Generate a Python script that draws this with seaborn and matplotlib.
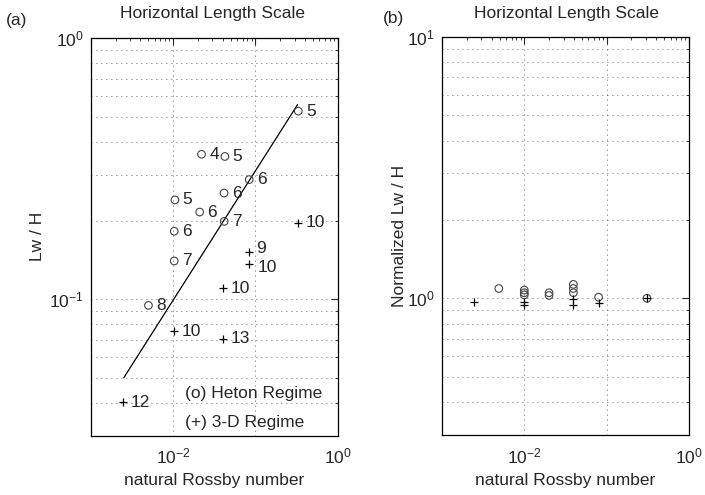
import matplotlib
matplotlib.use("Agg")
import matplotlib.pyplot as plt
import seaborn as sns
from matplotlib.ticker import FixedLocator, FixedFormatter, NullFormatter, LogLocator

# ---------------- data ----------------
# Panel (a): Lw/H vs natural Rossby number
heton_x = [0.332, 0.0221, 0.0425, 0.084, 0.0415, 0.0105, 0.0210, 0.0417, 0.0103, 0.0103, 0.0050]
heton_y = [0.525, 0.359, 0.352, 0.287, 0.255, 0.240, 0.2156, 0.1985, 0.182, 0.140, 0.0946]
heton_lab = ['5', '4', '5', '6', '6', '5', '6', '7', '6', '7', '8']

threed_x = [0.333, 0.0832, 0.0832, 0.0402, 0.0102, 0.0408, 0.00248]
threed_y = [0.196, 0.152, 0.136, 0.110, 0.0754, 0.0706, 0.0402]
threed_lab = ['10', '9', '10', '10', '10', '13', '12']

fit_x = [0.00251, 0.325]
fit_y = [0.050, 0.556]

# Panel (b): normalized Lw/H
norm_heton_x = [0.0049, 0.0100, 0.0100, 0.0100, 0.0200, 0.0200, 0.0395, 0.0395, 0.0395, 0.080, 0.31]
norm_heton_y = [1.09, 1.075, 1.05, 1.03, 1.05, 1.025, 1.13, 1.09, 1.05, 1.01, 1.0]
norm_threed_x = [0.00245, 0.0100, 0.0100, 0.0390, 0.0390, 0.080, 0.31]
norm_threed_y = [0.97, 0.97, 0.945, 0.99, 0.945, 0.96, 1.0]

xtick_vals = [1e-3, 1e-2, 1e-1, 1e0]
xtick_labels = ['', r'$10^{-2}$', '', r'$10^{0}$']
ya_tick_vals = [1e-1, 1e0]
ya_tick_labels = [r'$10^{-1}$', r'$10^{0}$']
yb_tick_vals = [1e0, 1e1]
yb_tick_labels = [r'$10^{0}$', r'$10^{1}$']

title_text = "Horizontal Length Scale"
xlabel_text = "natural Rossby number"

# ---------------- style ----------------
sns.set_style("white")
plt.rcParams['font.family'] = ['Liberation Sans', 'DejaVu Sans']
plt.rcParams['mathtext.fontset'] = 'custom'
plt.rcParams['mathtext.rm'] = 'Liberation Sans'
plt.rcParams['mathtext.it'] = 'Liberation Sans:italic'
plt.rcParams['mathtext.bf'] = 'Liberation Sans:bold'
FS = 12.5

fig = plt.figure(figsize=(7.05, 4.95), dpi=100)
ax_a = fig.add_axes([0.129, 0.120, 0.350, 0.803])
ax_b = fig.add_axes([0.627, 0.121, 0.350, 0.805])

grid_style = dict(color='#333333', linewidth=0.6, linestyle=(0, (1, 5)))


def style_axes(ax, ylim, ytv, ytl):
    ax.set_xscale('log')
    ax.set_yscale('log')
    ax.set_xlim(1e-3, 1e0)
    ax.set_ylim(*ylim)
    ax.xaxis.set_major_locator(FixedLocator(xtick_vals))
    ax.xaxis.set_major_formatter(FixedFormatter(xtick_labels))
    ax.xaxis.set_minor_locator(LogLocator(base=10, subs=range(2, 10)))
    ax.xaxis.set_minor_formatter(NullFormatter())
    ax.yaxis.set_major_locator(FixedLocator(ytv))
    ax.yaxis.set_major_formatter(FixedFormatter(ytl))
    ax.yaxis.set_minor_locator(LogLocator(base=10, subs=range(2, 10)))
    ax.yaxis.set_minor_formatter(NullFormatter())
    ax.tick_params(which='major', direction='in', top=True, right=True,
                   length=5, width=0.8, labelsize=FS, pad=5)
    ax.tick_params(axis='x', which='major', pad=8)
    ax.tick_params(which='minor', direction='in', top=True, right=True,
                   length=2.5, width=0.6)
    # grid: vertical at decades only, horizontal at all log steps
    ax.grid(False)
    ax.xaxis.grid(True, which='major', **grid_style)
    ax.yaxis.grid(True, which='both', **grid_style)
    for s in ax.spines.values():
        s.set_visible(True)
        s.set_color('black')
        s.set_linewidth(0.9)
    ax.set_xlabel(xlabel_text, fontsize=FS)
    ax.xaxis.set_label_coords(0.5, -0.095)


# ---------------- panel (a) ----------------
style_axes(ax_a, (0.03, 1.0), ya_tick_vals, ya_tick_labels)
sns.lineplot(x=fit_x, y=fit_y, color='black', linewidth=0.9, estimator=None,
             sort=False, ax=ax_a)
sns.scatterplot(x=heton_x, y=heton_y, marker='o', s=30, facecolor='none',
                edgecolor='#444444', linewidth=0.8, ax=ax_a, zorder=3)
sns.scatterplot(x=threed_x, y=threed_y, marker='+', s=40, color='black',
                linewidth=0.9, ax=ax_a, zorder=3)
for xv, yv, t in zip(heton_x, heton_y, heton_lab):
    ax_a.annotate(t, (xv, yv), xytext=(5.5, 0), textcoords='offset points',
                  ha='left', va='center', fontsize=FS)
# small vertical nudges for the two stacked labels near x=0.083
label_dy = {1: 2.5, 2: -2.0}
label_dx = {1: 5.0, 2: 6.5}
for i, (xv, yv, t) in enumerate(zip(threed_x, threed_y, threed_lab)):
    ax_a.annotate(t, (xv, yv), xytext=(label_dx.get(i, 5.5), label_dy.get(i, 0)),
                  textcoords='offset points', ha='left', va='center', fontsize=FS)
ax_a.text(0.38, 0.106, "(o) Heton Regime", transform=ax_a.transAxes,
          ha='left', va='center', fontsize=FS)
ax_a.text(0.38, 0.033, "(+) 3-D Regime", transform=ax_a.transAxes,
          ha='left', va='center', fontsize=FS)
ax_a.set_ylabel("Lw / H", fontsize=FS)
ax_a.yaxis.set_label_coords(-0.186, 0.5)

# ---------------- panel (b) ----------------
style_axes(ax_b, (0.3, 10.0), yb_tick_vals, yb_tick_labels)
sns.scatterplot(x=norm_heton_x, y=norm_heton_y, marker='o', s=30, facecolor='none',
                edgecolor='#444444', linewidth=0.8, ax=ax_b, zorder=3)
sns.scatterplot(x=norm_threed_x, y=norm_threed_y, marker='+', s=40, color='black',
                linewidth=0.9, ax=ax_b, zorder=3)
ax_b.set_ylabel("Normalized Lw / H", fontsize=FS)
ax_b.yaxis.set_label_coords(-0.142, 0.5)

# ---------------- titles / panel letters ----------------
fig.text(0.302, 0.972, title_text, ha='center', va='center', fontsize=FS)
fig.text(0.803, 0.972, title_text, ha='center', va='center', fontsize=FS)
fig.text(0.008, 0.958, "(a)", ha='left', va='center', fontsize=FS)
fig.text(0.543, 0.962, "(b)", ha='left', va='center', fontsize=FS)

fig.savefig("out.png", dpi=100)
